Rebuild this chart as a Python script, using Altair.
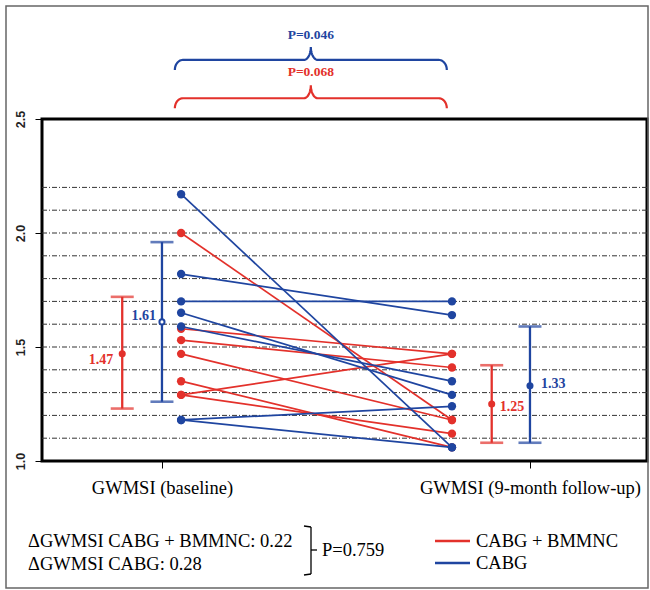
import numpy as np
import pandas as pd
import altair as alt

RED = "#e3312b"
BLUE = "#1f45a0"
SERIF = "'Liberation Serif', 'Times New Roman', Times, serif"
SANS = "'Liberation Sans', Arial, Helvetica, sans-serif"

# Paired patient values: baseline -> 9-month follow-up
red_baseline = [2.00, 1.58, 1.53, 1.47, 1.35, 1.29, 1.29]
red_followup = [1.18, 1.47, 1.41, 1.18, 1.06, 1.47, 1.12]
blue_baseline = [2.17, 1.82, 1.70, 1.65, 1.59, 1.18, 1.18]
blue_followup = [1.06, 1.64, 1.70, 1.29, 1.35, 1.24, 1.06]

# Group means and interval limits: [baseline, follow-up]
red_mean = [1.47, 1.25]
red_low = [1.23, 1.08]
red_high = [1.72, 1.42]
blue_mean = [1.61, 1.33]
blue_low = [1.26, 1.08]
blue_high = [1.96, 1.59]

time_labels = ["GWMSI (baseline)", "GWMSI (9-month follow-up)"]
group_names = ["CABG + BMMNC", "CABG"]
y_tick_values = [1.0, 1.5, 2.0, 2.5]
gridline_values = [1.1, 1.2, 1.3, 1.4, 1.5, 1.6, 1.7, 1.8, 1.9, 2.0, 2.1, 2.2]
p_within = {"blue": "P=0.046", "red": "P=0.068"}
delta_lines = ["\u0394GWMSI CABG + BMMNC: 0.22", "\u0394GWMSI CABG: 0.28"]
p_delta = "P=0.759"

# ---- layout ----
W, H = 605, 342
X_DOMAIN = [0.674, 2.318]
Y_DOMAIN = [1.0, 2.5]
PX_X = W / (X_DOMAIN[1] - X_DOMAIN[0])
PX_Y = H / (Y_DOMAIN[1] - Y_DOMAIN[0])
X_TICKS = [1, 2]
X_POINTS = [1.052, 1.788]
X_BARS = {"red": [0.892, 1.896], "blue": [1.0, 2.0]}

xs = alt.Scale(domain=X_DOMAIN, nice=False, zero=False)
ys = alt.Scale(domain=Y_DOMAIN, nice=False, zero=False)

label_expr = "datum.value == 1 ? '%s' : '%s'" % (time_labels[0], time_labels[1])
x_axis = alt.Axis(values=X_TICKS, labelExpr=label_expr, title=None, grid=False,
                  domain=False, tickSize=7, tickColor="black", tickWidth=1,
                  labelFont=SERIF, labelFontSize=18.5, labelColor="black",
                  labelPadding=10, labelLimit=0, labelOverlap=False)
y_axis = alt.Axis(values=y_tick_values, format=".1f", title=None, grid=False,
                  domain=False, tickSize=7, tickColor="black", tickWidth=1,
                  labelFont=SANS, labelFontSize=12.5, labelFontWeight="bold",
                  labelColor="#222", labelAngle=270, labelAlign="center",
                  labelBaseline="bottom", labelPadding=8)

X = lambda f="x": alt.X(f"{f}:Q", scale=xs, axis=x_axis)
Y = lambda f="y": alt.Y(f"{f}:Q", scale=ys, axis=y_axis)

one = pd.DataFrame({"k": [0]})

# dash-dot reference lines
grid = alt.Chart(pd.DataFrame({"y": gridline_values})).mark_rule(
    color="#333", strokeWidth=1, strokeDash=[5, 2, 1, 2]
).encode(y=Y())


def pair_frame(before, after):
    rows = []
    for i, (b, a) in enumerate(zip(before, after)):
        rows.append({"pid": i, "x": X_POINTS[0], "y": b})
        rows.append({"pid": i, "x": X_POINTS[1], "y": a})
    return pd.DataFrame(rows)


def paired_layers(before, after, color):
    df = pair_frame(before, after)
    lines = alt.Chart(df).mark_line(color=color, strokeWidth=1.7).encode(
        x=X(), y=Y(), detail="pid:N")
    pts = alt.Chart(df).mark_circle(color=color, size=70, opacity=1).encode(
        x=X(), y=Y())
    return [lines, pts]


def summary_layers(key, mean, low, high, color):
    df = pd.DataFrame({"x": X_BARS[key], "m": mean, "lo": low, "hi": high})
    bar = alt.Chart(df).mark_rule(color=color, strokeWidth=2.3).encode(
        x=X(), y=Y("lo"), y2="hi:Q")
    cap_lo = alt.Chart(df).mark_tick(color=color, orient="horizontal", size=23,
                                     thickness=2.6).encode(x=X(), y=Y("lo"))
    cap_hi = alt.Chart(df).mark_tick(color=color, orient="horizontal", size=23,
                                     thickness=2.6).encode(x=X(), y=Y("hi"))
    return df, [bar, cap_lo, cap_hi]


red_df, red_bars = summary_layers("red", red_mean, red_low, red_high, RED)
blue_df, blue_bars = summary_layers("blue", blue_mean, blue_low, blue_high, BLUE)

red_dots = alt.Chart(red_df).mark_circle(color=RED, size=50, opacity=1).encode(
    x=X(), y=Y("m"))
blue_dot_base = alt.Chart(blue_df.iloc[[0]]).mark_point(
    shape="circle", filled=True, fill="white", stroke=BLUE, strokeWidth=2,
    size=26, opacity=1).encode(x=X(), y=Y("m"))
blue_dot_follow = alt.Chart(blue_df.iloc[[1]]).mark_circle(
    color=BLUE, size=50, opacity=1).encode(x=X(), y=Y("m"))


def mean_label(df, i, color, align, dx, dy):
    sub = df.iloc[[i]].assign(t=lambda d: d["m"].map(lambda v: f"{v:.2f}"))
    return alt.Chart(sub).mark_text(
        color=color, font=SERIF, fontSize=14, fontWeight="bold",
        align=align, baseline="middle", dx=dx, dy=dy
    ).encode(x=X(), y=Y("m"), text="t:N")


labels = [
    mean_label(red_df, 0, RED, "right", -9, 6),
    mean_label(blue_df, 0, BLUE, "right", -6, -6),
    mean_label(red_df, 1, RED, "left", 8, 3),
    mean_label(blue_df, 1, BLUE, "left", 11, -2),
]


def brace_frame(x0, x1, y):
    """Horizontal curly brace, tip pointing up, in data units."""
    ew, eh = 8 / PX_X, 10 / PX_Y
    tw, th = 7 / PX_X, 13 / PX_Y
    xc = (x0 + x1) / 2
    t = np.linspace(0, np.pi / 2, 14)
    tr = t[::-1]
    px = np.concatenate([
        x0 + ew - ew * np.cos(t),
        xc - tw + tw * np.sin(t),
        xc + tw - tw * np.sin(tr),
        x1 - ew + ew * np.sin(t),
    ])
    py = np.concatenate([
        y - eh + eh * np.sin(t),
        y + th - th * np.cos(t),
        y + th - th * np.cos(tr),
        y - eh + eh * np.cos(t),
    ])
    return pd.DataFrame({"x": px, "y": py, "i": np.arange(len(px))})


BRACE_X = [1.035, 1.774]
brace_y = {"blue": 2.759, "red": 2.591}
text_y = {"blue": 2.868, "red": 2.707}
colors = {"blue": BLUE, "red": RED}

braces = []
for key in ["blue", "red"]:
    bdf = brace_frame(BRACE_X[0], BRACE_X[1], brace_y[key])
    braces.append(alt.Chart(bdf).mark_line(color=colors[key], strokeWidth=2.2).encode(
        x=X(), y=Y(), order="i:Q"))
    tdf = pd.DataFrame({"x": [sum(BRACE_X) / 2], "y": [text_y[key]], "t": [p_within[key]]})
    braces.append(alt.Chart(tdf).mark_text(
        color=colors[key], font=SERIF, fontSize=13.5, fontWeight="bold",
        baseline="middle").encode(x=X(), y=Y(), text="t:N"))

# ---- annotations below the plot (pixel positions relative to plot origin) ----
def txt(s, x, y, color="black", size=18.5, align="left"):
    return alt.Chart(one).mark_text(text=s, font=SERIF, fontSize=size, color=color,
                                    align=align, baseline="middle").encode(
        x=alt.value(x), y=alt.value(y))


def seg(x1, x2, y1, y2, color="black", w=1.3):
    return alt.Chart(one).mark_rule(color=color, strokeWidth=w).encode(
        x=alt.value(x1), x2=alt.value(x2), y=alt.value(y1), y2=alt.value(y2))


notes = [
    txt(delta_lines[0], -14, 422),
    txt(delta_lines[1], -14, 445),
    seg(262, 269, 407, 408),
    seg(269, 269, 408, 455),
    seg(262, 269, 456, 455),
    seg(269, 275, 431, 431),
    txt(p_delta, 280, 431),
    seg(393, 428, 422, 422, RED, 2.6),
    txt(group_names[0], 434, 422),
    seg(393, 428, 444, 444, BLUE, 2.6),
    txt(group_names[1], 434, 444),
]

border = alt.Chart(one).mark_rect(filled=False, stroke="#666", strokeWidth=1.5).encode(
    x=alt.value(-36), x2=alt.value(606), y=alt.value(-113), y2=alt.value(469))

layers = [border, grid]
layers += paired_layers(red_baseline, red_followup, RED)
layers += paired_layers(blue_baseline, blue_followup, BLUE)
layers += red_bars + blue_bars + [red_dots, blue_dot_base, blue_dot_follow]
layers += labels + braces + notes

chart = alt.layer(*layers).properties(
    width=W, height=H,
    autosize=alt.AutoSizeParams(type="none"),
    padding={"left": 42, "top": 119, "right": 3, "bottom": 129},
    background="white",
).configure_view(stroke="black", strokeWidth=3)

chart.save("out.html", embed_options={"renderer": "svg", "actions": False})
